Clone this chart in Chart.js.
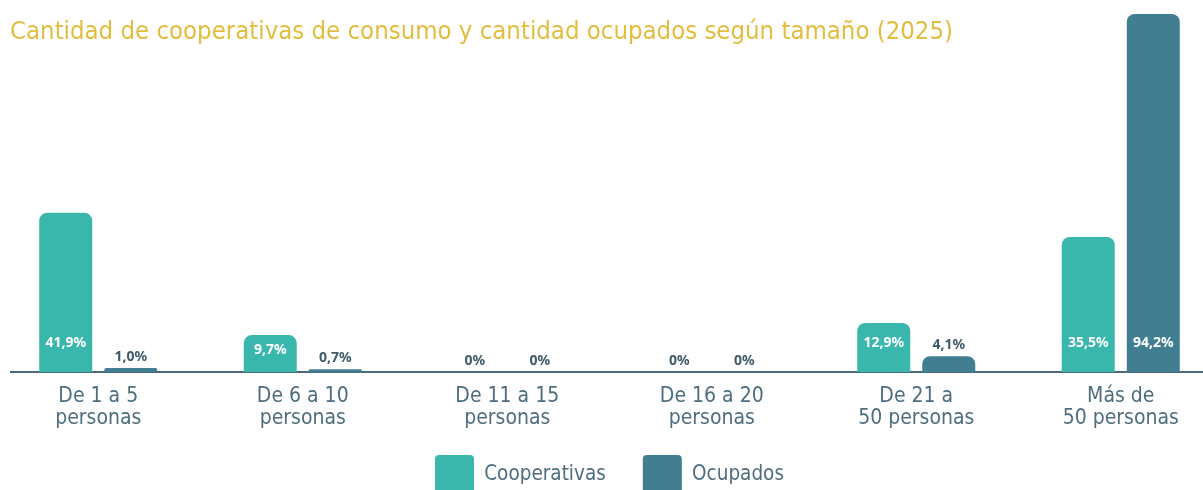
<!DOCTYPE html>
<html>
<head>
<meta charset="utf-8">
<script src="https://cdn.jsdelivr.net/npm/chart.js@4"></script>
<style>
  html, body { margin: 0; padding: 0; background: #fff; overflow: hidden; width: 1203px; height: 490px; }
  #wrap { position: absolute; left: -4px; top: 0; width: 1227px; height: 504px; }
  #titulo {
    position: absolute; left: 10px; top: 15px; margin: 0;
    font-family: 'Liberation Sans Narrow', 'DejaVu Sans Condensed', Roboto, sans-serif;
    font-weight: normal; font-size: 25.5px; color: #e2bd3f; z-index: 2;
  }
</style>
</head>
<body>
<h1 id="titulo">Cantidad de cooperativas de consumo y cantidad ocupados según tamaño (2025)</h1>
<div id="wrap"><canvas id="myChart" width="1227" height="504"></canvas></div>
<script>
const categorias = [
    ['De 1 a 5', 'personas'],
    ['De 6 a 10', 'personas'],
    ['De 11 a 15', 'personas'],
    ['De 16 a 20', 'personas'],
    ['De 21 a', '50 personas'],
    ['Más de', '50 personas']
];
const cooperativas = [41.9, 9.7, 0, 0, 12.9, 35.5];
const ocupados = [1.0, 0.7, 0, 0, 4.1, 94.2];

const fuente = "'Liberation Sans Narrow', 'DejaVu Sans Condensed', Roboto, sans-serif";
const grisAzul = '#4e6e80';
const recorte = 18; // acerca la leyenda al eje

function formato(v) {
    if (v === 0) return '0%';
    return v.toFixed(1).replace('.', ',') + '%';
}

// linea base del eje, empieza un poco a la derecha del borde
const lineaBase = {
    id: 'lineaBase',
    afterLayout(chart) {
        // el eje x se achico en afterFit; se devuelve el alto para que no se recorten las etiquetas
        chart.scales.x.bottom += recorte;
    },
    beforeDatasetsDraw(chart) {
        const c = chart.ctx;
        const y = chart.chartArea.bottom;
        c.save();
        c.strokeStyle = '#4a6b7c';
        c.lineWidth = 2;
        c.beginPath();
        c.moveTo(14, y);
        c.lineTo(chart.width, y);
        c.stroke();
        c.restore();
    }
};

// etiquetas de valor: blancas dentro de la barra si es alta, oscuras arriba si no
const etiquetas = {
    id: 'etiquetas',
    afterDatasetsDraw(chart) {
        const c = chart.ctx;
        c.save();
        c.font = "bold 14px 'Noto Sans', sans-serif";
        c.textAlign = 'center';
        c.textBaseline = 'middle';
        chart.data.datasets.forEach((ds, i) => {
            chart.getDatasetMeta(i).data.forEach((bar, j) => {
                const v = ds.data[j];
                const alto = bar.base - bar.y;
                if (alto > 25) {
                    c.fillStyle = '#ffffff';
                    c.fillText(formato(v), bar.x, Math.max(bar.base - 29, bar.y + 15));
                } else {
                    c.fillStyle = '#3e5b6b';
                    c.fillText(formato(v), bar.x, bar.y - 11);
                }
            });
        });
        c.restore();
    }
};

const ctx = document.getElementById('myChart').getContext('2d');
const myChart = new Chart(ctx, {
    type: 'bar',
    data: {
        labels: categorias,
        datasets: [{
            label: 'Cooperativas',
            data: cooperativas,
            backgroundColor: '#3ab7ac',
            borderRadius: { topLeft: 8, topRight: 8 },
            borderSkipped: 'bottom'
        }, {
            label: 'Ocupados',
            data: ocupados,
            backgroundColor: '#417e92',
            borderRadius: { topLeft: 8, topRight: 8 },
            borderSkipped: 'bottom'
        }]
    },
    options: {
        responsive: false,
        animation: false,
        layout: { padding: { top: 14, left: 0, right: 0, bottom: 0 } },
        datasets: {
            bar: { categoryPercentage: 0.636, barPercentage: 0.815 }
        },
        scales: {
            x: {
                grid: { display: false },
                border: { display: false },
                ticks: {
                    color: grisAzul,
                    padding: 6,
                    font: { family: fuente, size: 21, lineHeight: 1.05 }
                },
                afterFit(scale) { scale.height -= recorte; }
            },
            y: {
                display: false,
                min: 0,
                max: 94.2
            }
        },
        plugins: {
            legend: {
                position: 'bottom',
                labels: {
                    color: grisAzul,
                    boxWidth: 39,
                    boxHeight: 39,
                    padding: 37,
                    useBorderRadius: true,
                    borderRadius: 4,
                    font: { family: fuente, size: 20.5 }
                }
            },
            tooltip: { enabled: false }
        }
    },
    plugins: [lineaBase, etiquetas]
});
</script>
</body>
</html>
